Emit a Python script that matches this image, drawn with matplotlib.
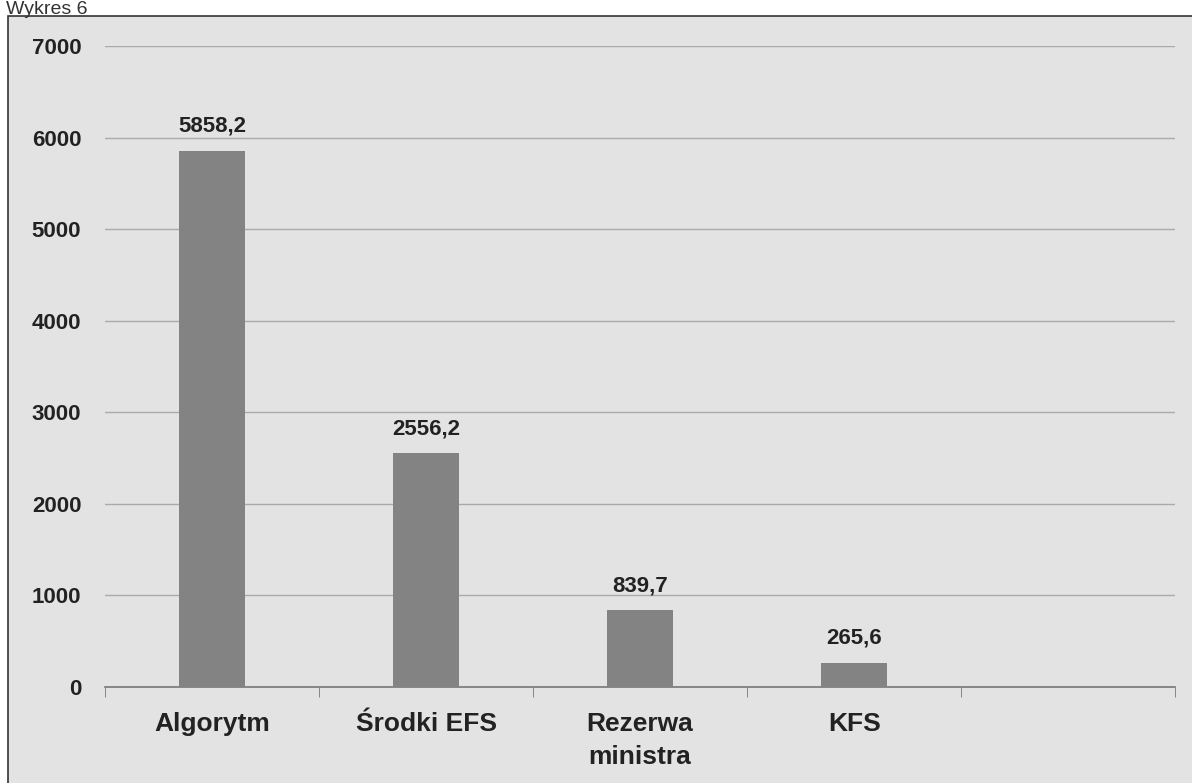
import matplotlib.pyplot as plt
import matplotlib.patches as mpatches
import numpy as np

categories = ["Algorytm", "Środki EFS", "Rezerwa\nministra", "KFS", ""]
values = [5858.2, 2556.2, 839.7, 265.6]
value_labels = ["5858,2", "2556,2", "839,7", "265,6"]

plt.rcParams['font.family'] = ['Liberation Sans', 'DejaVu Sans']

fig = plt.figure(figsize=(11.92, 7.83), dpi=100)
fig.patch.set_facecolor('white')

# scanned chart frame with grey background
frame = mpatches.Rectangle((0.007, -0.01), 1.0, 0.99, transform=fig.transFigure,
                           facecolor='#e3e3e3', edgecolor='#333333', linewidth=1.2, zorder=-5)
fig.patches.append(frame)
fig.text(0.005, 0.999, "Wykres 6", fontsize=14, color='#333333', va='top', ha='left')

ax = fig.add_axes([0.088, 0.1226, 0.898, 0.8187])
ax.set_facecolor('none')
ax.set_zorder(2)

x = np.arange(len(categories))
ax.bar(x[:len(values)], values, width=0.31, color='#838383', zorder=3)

for xi, v, lab in zip(x, values, value_labels):
    ax.annotate(lab, xy=(xi, v), xytext=(0, 10), textcoords='offset points',
                ha='center', va='bottom', fontsize=16, fontweight='bold', color='#222222')

ax.set_xlim(-0.5, len(categories) - 0.5)
ax.set_ylim(0, 7000)
ax.set_yticks(np.arange(0, 7001, 1000))
ax.yaxis.grid(True, color='#aaaaaa', linewidth=1.0, zorder=0)
ax.set_axisbelow(True)

ax.set_xticks(x)
ax.set_xticklabels(categories, fontsize=19, fontweight='bold', color='#222222', linespacing=1.45)
ax.set_xticks(np.arange(-0.5, len(categories), 1.0), minor=True)
ax.tick_params(axis='x', which='major', length=0, pad=18)
ax.tick_params(axis='x', which='minor', length=7, color='#777777')
ax.tick_params(axis='y', length=0, pad=17, labelsize=16)
for t in ax.get_yticklabels():
    t.set_fontweight('bold')
    t.set_color('#222222')

for s in ['top', 'right', 'left']:
    ax.spines[s].set_visible(False)
ax.spines['bottom'].set_color('#777777')
ax.spines['bottom'].set_linewidth(1.2)

plt.savefig('out.png', dpi=100)
